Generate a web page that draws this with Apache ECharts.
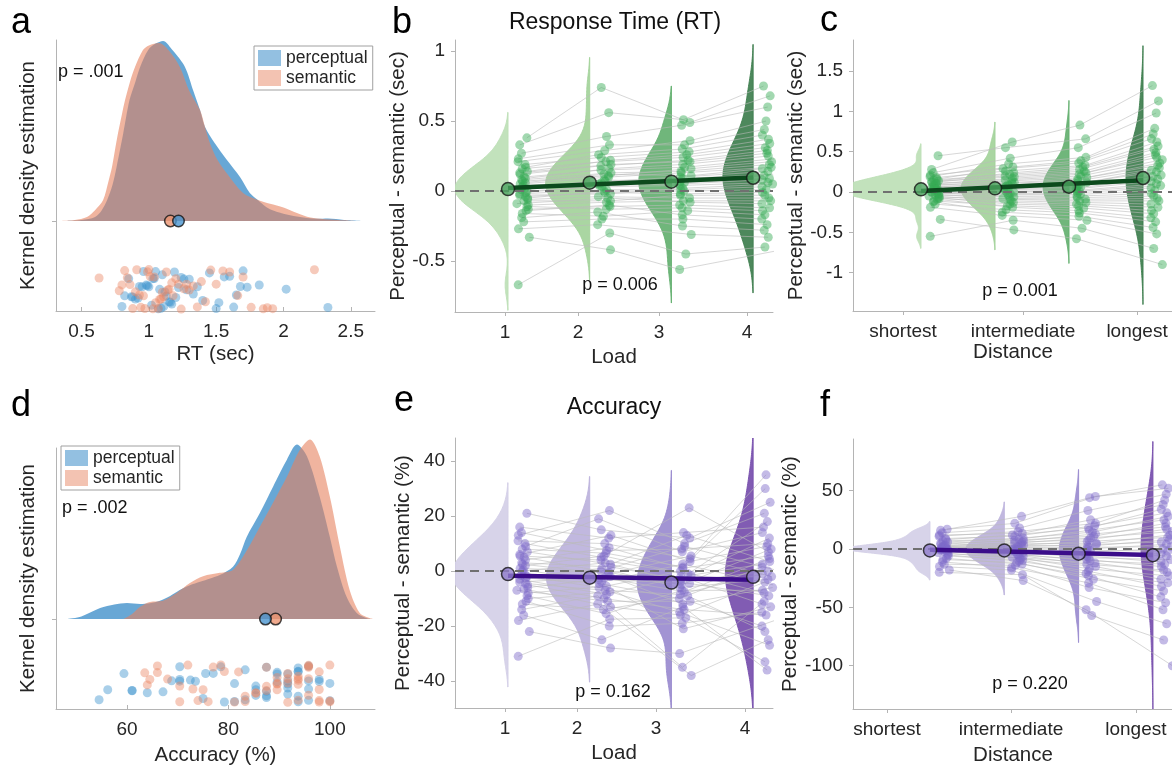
<!DOCTYPE html>
<html><head><meta charset="utf-8">
<script src="https://cdn.jsdelivr.net/npm/echarts@6/dist/echarts.min.js"></script>
<style>html,body{margin:0;padding:0;background:#fff}#c{width:1172px;height:765px}</style>
</head><body><div id="c"></div>
<script>
// ---------------- DATA ----------------
// Panel a: RT per subject (sec)
const rtPerceptual = [0.80,0.82,0.85,0.87,0.88,0.90,0.92,0.93,0.95,0.96,0.98,0.99,1.00,1.02,1.03,1.04,1.05,1.07,1.08,1.09,1.10,1.11,1.12,1.13,1.15,1.16,1.17,1.19,1.20,1.22,1.24,1.26,1.28,1.30,1.33,1.36,1.40,1.45,1.50,1.52,1.56,1.60,1.63,1.65,1.68,1.70,1.73,1.82,2.02,2.33];
const rtSemantic = [0.63,0.78,0.80,0.82,0.84,0.86,0.88,0.90,0.91,0.93,0.94,0.96,0.97,0.99,1.00,1.01,1.03,1.04,1.05,1.07,1.08,1.09,1.10,1.11,1.13,1.14,1.15,1.17,1.18,1.20,1.22,1.24,1.26,1.28,1.30,1.33,1.36,1.39,1.42,1.46,1.50,1.55,1.60,1.66,1.70,1.76,1.85,1.88,1.92,2.23];
const rtMeans = [1.22, 1.16]; // perceptual, semantic
const rtDensPerceptual = [[0.39,0],[0.5,0.005],[0.6,0.022],[0.65,0.06],[0.69,0.116],[0.73,0.2],[0.76,0.298],[0.81,0.486],[0.856,0.668],[0.9,0.77],[0.935,0.851],[0.995,0.945],[1.05,0.98],[1.105,0.995],[1.18,0.94],[1.268,0.851],[1.33,0.72],[1.38,0.613],[1.417,0.52],[1.49,0.43],[1.58,0.337],[1.677,0.243],[1.75,0.155],[1.81,0.116],[1.85,0.09],[1.9,0.065],[2.0,0.04],[2.1,0.025],[2.25,0.012],[2.33,0.014],[2.45,0.006],[2.6,0]];
const rtDensSemantic = [[0.35,0],[0.45,0.005],[0.54,0.022],[0.6,0.06],[0.66,0.116],[0.7,0.22],[0.726,0.298],[0.75,0.4],[0.771,0.486],[0.8,0.59],[0.823,0.668],[0.86,0.77],[0.897,0.851],[0.956,0.945],[1.0,0.97],[1.075,0.983],[1.15,0.94],[1.231,0.85],[1.3,0.72],[1.38,0.613],[1.417,0.52],[1.454,0.43],[1.51,0.337],[1.6,0.243],[1.7,0.155],[1.81,0.116],[1.9,0.095],[2.0,0.075],[2.1,0.045],[2.2,0.02],[2.35,0.008],[2.5,0.002],[2.6,0]];

// Panel d: accuracy per subject (%)
const accPerceptual = [54.5,56.2,59.4,61,61,64,67.1,68.8,70.4,70.4,70.4,72.5,73.5,75,75.5,77,78.5,79.2,81.2,81.2,83.3,83.3,85.4,85.4,85.4,87.5,87.5,87.5,87.5,89.6,89.6,89.6,91.7,91.7,91.7,91.7,91.7,93.75,93.75,93.75,93.75,93.75,95.8,95.8,95.8,95.8,97.9,97.9,100,100];
const accSemantic = [63.5,64,64.5,66,66,68,70.4,70.4,72,73,74,75,76,77,78.5,79.2,81.2,82,83.3,83.3,85.4,85.4,87.5,87.5,87.5,89.6,89.6,89.6,89.6,91.7,91.7,91.7,91.7,93.75,93.75,93.75,93.75,93.75,95.8,95.8,95.8,95.8,95.8,97.9,97.9,97.9,97.9,100,100,100];
const accMeans = [87.3, 89.3];
const accDensPerceptual = [[48.2,0],[51,0.015],[54.7,0.064],[57.5,0.085],[60,0.094],[62.6,0.088],[64.5,0.092],[66.5,0.107],[68.5,0.135],[70.4,0.17],[72.4,0.198],[74.4,0.218],[76.4,0.237],[78.3,0.257],[80.9,0.306],[82.3,0.38],[83.6,0.48],[86.2,0.62],[88.8,0.774],[91.5,0.93],[93.5,1.02],[95.5,0.95],[98,0.715],[100,0.48],[101.4,0.306],[103.3,0.13],[105.3,0.035],[107.3,0.005],[108.5,0]];
const accDensSemantic = [[59.3,0],[61,0.03],[62.6,0.072],[64.5,0.10],[67.1,0.107],[69.8,0.152],[72.4,0.21],[75,0.25],[78.3,0.27],[80.9,0.287],[83.6,0.40],[86.2,0.54],[88.8,0.68],[91.5,0.83],[94.1,0.99],[96.1,1.05],[98,0.95],[100,0.715],[102,0.42],[103.9,0.17],[105.9,0.035],[107.9,0.005],[108.9,0]];

// Panel b: RT difference (perceptual - semantic, sec) by load, per subject
const rtLoad1 = [-0.67,-0.33,-0.27,-0.22,-0.19,-0.16,-0.14,-0.13,-0.11,-0.10,-0.09,-0.07,-0.06,-0.05,-0.04,-0.03,-0.02,-0.01,0.00,0.01,0.02,0.03,0.04,0.05,0.06,0.07,0.08,0.09,0.10,0.12,0.13,0.14,0.16,0.17,0.19,0.21,0.23,0.27,0.33,0.38];
const rtLoad2 = [-0.30,-0.42,-0.24,-0.20,-0.15,-0.18,-0.10,-0.11,-0.13,-0.08,-0.05,-0.07,-0.04,0.00,-0.01,-0.02,0.01,0.04,0.03,0.05,0.08,0.07,0.06,0.10,0.12,0.11,0.13,0.16,0.15,0.18,0.19,0.22,0.21,0.26,0.24,0.29,0.33,0.39,0.56,0.74];
const rtLoad3 = [-0.45,-0.56,-0.31,-0.20,-0.25,-0.14,-0.17,-0.10,-0.12,-0.07,-0.08,-0.03,-0.05,0.00,-0.02,0.02,0.01,0.05,0.04,0.07,0.06,0.10,0.09,0.13,0.11,0.16,0.14,0.19,0.17,0.22,0.21,0.26,0.24,0.30,0.28,0.36,0.33,0.47,0.51,0.49];
const rtLoad4 = [-0.40,-0.43,-0.33,-0.24,-0.28,-0.17,-0.20,-0.12,-0.14,-0.07,-0.09,-0.03,-0.05,0.01,-0.01,0.05,0.03,0.08,0.06,0.11,0.09,0.14,0.12,0.17,0.16,0.21,0.19,0.25,0.23,0.29,0.27,0.34,0.31,0.40,0.37,0.50,0.44,0.60,0.75,0.68];
const rtLoadMeans = [0.014, 0.06, 0.067, 0.095];

// Panel c: RT difference by distance
const rtDist1 = [-0.55,-0.34,-0.19,-0.15,-0.12,-0.11,-0.09,-0.08,-0.07,-0.06,-0.05,-0.04,-0.03,-0.02,-0.01,0.00,0.00,0.01,0.02,0.03,0.04,0.05,0.05,0.06,0.07,0.08,0.09,0.10,0.11,0.12,0.13,0.14,0.15,0.16,0.18,0.19,0.21,0.24,0.28,0.45];
const rtDist2 = [-0.35,-0.47,-0.29,-0.22,-0.25,-0.17,-0.19,-0.13,-0.15,-0.09,-0.11,-0.06,-0.08,-0.03,-0.05,0.00,-0.02,0.03,0.01,0.05,0.04,0.08,0.07,0.11,0.09,0.14,0.12,0.17,0.15,0.20,0.19,0.24,0.22,0.29,0.26,0.35,0.31,0.42,0.62,0.55];
const rtDist3 = [-0.45,-0.58,-0.35,-0.26,-0.30,-0.20,-0.23,-0.15,-0.17,-0.11,-0.13,-0.07,-0.09,-0.03,-0.05,0.01,-0.01,0.04,0.02,0.07,0.06,0.11,0.09,0.14,0.12,0.18,0.16,0.22,0.20,0.26,0.24,0.31,0.28,0.36,0.33,0.43,0.39,0.55,0.83,0.66];
const rtDist4 = [-0.70,-0.90,-0.52,-0.37,-0.44,-0.27,-0.32,-0.19,-0.23,-0.11,-0.15,-0.05,-0.08,0.02,-0.02,0.08,0.05,0.13,0.10,0.19,0.16,0.25,0.21,0.30,0.27,0.36,0.33,0.43,0.40,0.49,0.46,0.57,0.53,0.66,0.62,0.79,0.72,0.98,1.32,1.13];
const rtDistMeans = [0.033, 0.046, 0.066, 0.174];

// Panel e: accuracy difference (%) by load
const accLoad1 = [-31,-22,-18,-16,-14,-12,-11,-10,-9,-8,-7,-6.5,-6,-5,-4.5,-4,-3,-2.5,-2,-1.5,-1,0,0.5,1,2,2.5,3,4,5,5.5,6,7,8,9,10,11,13,14,16,21];
const accLoad2 = [-17.5,-28,-12,-25,-9,-14,-20,-7.5,-15.5,-5.5,-11,-13,-3,-10,-7,-2,-8.5,-4.5,1,-6,-2.5,3,-4,-0.5,5.5,-1,1.5,8.5,0,4,13,2.5,6.5,19,5,10,22,7.5,12,15];
const accLoad3 = [-17,-30,-38,-13,-35,-9,-19,-15,-7,-21,-11,-16,-4.5,-14,-8.5,-12,-2,-10,-6,0,-7.5,-4,2.5,-5,-1.5,5.5,-3,1,9,-1,3.5,13,1.5,7,23,4.5,10,8,14,12];
const accLoad4 = [-33,-18,-25,-36,-11,-22,-15,-27,-7,-13,-20,-4,-9,-16,-1,-6,-12,1.5,-3,-8,4.5,0,-5,8,2.5,-2,12,5.5,0.5,18,9,3.5,30,14,7,35,21,10,16,25];
const accLoadMeans = [-1.1, -2.4, -4.2, -2.1];

// Panel f: accuracy difference (%) by distance
const accDist1 = [-20,-18,-15,-13,-11,-9,-8,-6,-5,-4,-3,-2,-2,-1,-1,-1,-0.5,0,0,0,0,0.5,1,1,1,2,2,3,3,4,5,6,7,8,9,11,12,14,16,17];
const accDist2 = [-22,-27,-18,-14,-16,-11.5,-13,-9.5,-10.5,-7.5,-8.5,-6,-7,-4.5,-5,-3,-3.5,-1.5,-2,0,-0.5,1.5,0.5,3,2,4.5,3.5,6,5,7.5,7,9.5,8.5,12,11,15,13.5,18,28,22];
const accDist3 = [-57,-52,-45,-33,-29,-26,-23,-21,-19,-17,-15,-13,-12,-10,-9,-7.5,-6,-5,-3.5,-2.5,-1,0,1.5,2.5,4,5,6.5,8,9.5,11,13,14.5,16,18,20,22,25,33,44,45];
const accDist4 = [-78,-100,-64,-46,-52,-36,-41,-29,-32,-23,-26,-18,-20,-13,-15,-9,-11,-4,-6,0,-2,4,2,8,6,12,10,17,15,22,19,28,25,34,31,42,38,47,55,52];
const accDistMeans = [-1.2, -1.2, -4.0, -5.3];

// tick labels
const loadLabels = ['1','2','3','4'];
const distanceLabels = ['shortest','intermediate','longest'];
const rtTicks = [0.5,1,1.5,2,2.5];
const accTicks = [60,80,100];
const rtLoadYTicks = [-0.5,0,0.5,1];
const rtDistYTicks = [-1,-0.5,0,0.5,1,1.5];
const accLoadYTicks = [-40,-20,0,20,40];
const accDistYTicks = [-100,-50,0,50];

// ---------------- LAYOUT / STYLE ----------------
const FONT = "'Liberation Sans', Arial, Helvetica, sans-serif";
const TXT = '#262626';
const AXC = '#b4b4b4';
const BLUE_AREA = 'rgba(40,130,195,0.7)', SAL_AREA = 'rgba(230,130,95,0.6)';
const BLUE_SW = 'rgba(40,130,195,0.5)', SAL_SW = 'rgba(230,130,95,0.48)';
const BLUE_PT = 'rgba(60,145,205,0.55)', SAL_PT = 'rgba(235,135,100,0.55)';
const GREENS = ['#bde0b6','#a3d29a','#64b070','#3e7e4e'];
const PURPLES = ['#d4cfe7','#bcb2dc','#9a8bcf','#764eac'];
const OFF = 0.18, SPR = 0.17;

// deterministic visual jitter (positions only)
function hash(a){ const s=Math.sin(a*12.9898+78.233)*43758.5453; return s-Math.floor(s); }
function jit(i,k){ return hash(i*7.13 + k*101.7 + 1.3) - 0.5; }
function yj(i,s){ return hash(i*3.71 + s*57.3 + 9.1); }
function median(a){ const s=a.slice().sort((x,y)=>x-y); const n=s.length; return n%2 ? s[(n-1)/2] : (s[n/2-1]+s[n/2])/2; }
function avg(a){ return a.reduce((s,v)=>s+v,0)/a.length; }
function kde(vals){
  const n=vals.length, med=median(vals), mad=median(vals.map(v=>Math.abs(v-med)));
  const h=(mad/0.6745)*Math.pow(4/(3*n),0.2);
  const lo=Math.min(...vals)-2.2*h, hi=Math.max(...vals)+2.2*h, M=160, pts=[]; let mx=0;
  for(let t=0;t<=M;t++){ const y=lo+(hi-lo)*t/M; let d=0; for(const v of vals){ const u=(y-v)/h; d+=Math.exp(-0.5*u*u);} d/=n*h*Math.sqrt(2*Math.PI); pts.push([y,d]); if(d>mx) mx=d; }
  return {pts, mx, lo, hi};
}

function valAxis(gi, min, max, ticks, labels, o){
  return {
    type:'value', gridIndex:gi, min, max,
    axisLine:{show:true, onZero:false, lineStyle:{color:AXC, width:1}},
    axisTick:{show:true, inside:!!o.inside, length:4, lineStyle:{color:AXC}, customValues:ticks},
    axisLabel:{show:!!labels, customValues:ticks, margin:o.margin||11, color:TXT, fontSize:19, fontFamily:FONT,
      formatter:(v)=>{ const i=ticks.findIndex(t=>Math.abs(t-v)<1e-6); return (labels && i>=0) ? labels[i] : ''; }},
    splitLine:{show:false},
    name:o.name, nameLocation:'middle', nameGap:o.gap,
    nameTextStyle:{color:TXT, fontSize:20.5, fontFamily:FONT}
  };
}
const str = a => a.map(v=>String(v));

const grids = [
  {left:56, top:40, width:319, height:271},
  {left:455, top:40, width:318, height:272},
  {left:853, top:40, width:320, height:271},
  {left:56, top:448, width:319, height:261},
  {left:455, top:438, width:318, height:270},
  {left:853, top:439, width:320, height:270}
].map(g=>Object.assign(g,{containLabel:false, outerBoundsMode:'none'}));

const xAxes = [
  valAxis(0, 0.31, 2.68, rtTicks, str(rtTicks), {inside:true, name:'RT (sec)', gap:33}),
  valAxis(1, 0.351, 4.243, [0.963,1.857,2.848,3.925], loadLabels, {name:'Load', gap:35}),
  valAxis(2, 0.081, 4.405, [0.757,2.378,3.919], distanceLabels, {name:'Distance', gap:29}),
  valAxis(3, 46, 108.9, accTicks, str(accTicks), {inside:true, name:'Accuracy (%)', gap:36}),
  valAxis(4, 0.351, 4.243, [0.963,1.845,2.811,3.90], loadLabels, {name:'Load', gap:35}),
  valAxis(5, -0.036, 4.27, [0.421,2.09,3.77], distanceLabels, {name:'Distance', gap:36})
];
const yAxes = [
  valAxis(0, -0.497, 1.0, [0], null, {name:'Kernel density estimation', gap:17}),
  valAxis(1, -0.864, 1.079, rtLoadYTicks, str(rtLoadYTicks), {name:'Perceptual - semantic (sec)', gap:38, margin:10}),
  valAxis(2, -1.476, 1.886, rtDistYTicks, str(rtDistYTicks), {name:'Perceptual - semantic (sec)', gap:37, margin:10}),
  valAxis(3, -0.526, 1.0, [0], null, {name:'Kernel density estimation', gap:17}),
  valAxis(4, -49.8, 48.4, accLoadYTicks, str(accLoadYTicks), {name:'Perceptual - semantic (%)', gap:35, margin:10}),
  valAxis(5, -137.1, 94.3, accDistYTicks, str(accDistYTicks), {name:'Perceptual - semantic (%)', gap:46, margin:10})
];

function densitySeries(gi, densP, densS, ptsP, ptsS, means, clip){
  const sc = (vals, s) => vals.map((v,i)=>[v, -0.265 - 0.225*yj(i,s)]);
  return [
    {type:'line', name:'perceptual', xAxisIndex:gi, yAxisIndex:gi, data:densP, smooth:0.3, symbol:'none', clip,
      lineStyle:{width:0, opacity:0}, itemStyle:{color:BLUE_SW}, areaStyle:{color:BLUE_AREA, opacity:1}, z:2, silent:true},
    {type:'line', name:'semantic', xAxisIndex:gi, yAxisIndex:gi, data:densS, smooth:0.3, symbol:'none', clip,
      lineStyle:{width:0, opacity:0}, itemStyle:{color:SAL_SW}, areaStyle:{color:SAL_AREA, opacity:1}, z:3, silent:true},
    {type:'scatter', xAxisIndex:gi, yAxisIndex:gi, data:sc(ptsP,0), symbolSize:9, itemStyle:{color:BLUE_PT}, z:4, silent:true},
    {type:'scatter', xAxisIndex:gi, yAxisIndex:gi, data:sc(ptsS,1), symbolSize:9, itemStyle:{color:SAL_PT}, z:4, silent:true},
    {type:'scatter', xAxisIndex:gi, yAxisIndex:gi, data:[{value:[means[1],0], itemStyle:{color:'#ec9572'}},{value:[means[0],0], itemStyle:{color:'#4a95cf'}}],
      symbolSize:11.5, itemStyle:{borderColor:'#151515', borderWidth:1.5}, z:6, silent:true}
  ];
}

function rcSeries(p){
  const gi=p.gi;
  const vio = p.conds.map((vals,k)=>Object.assign(kde(vals), {edge:k+1, w:p.widths[k], color:p.colors[k]}));
  const n = p.conds[0].length;
  const px = (i,k) => k+1+OFF+SPR*jit(i,k);
  const lines=[]; for(let i=0;i<n;i++) lines.push({coords:p.conds.map((vals,k)=>[px(i,k), vals[i]])});
  const pts=[]; p.conds.forEach((vals,k)=>vals.forEach((v,i)=>pts.push([px(i,k), v])));
  const xs=p.means.map((_,k)=>k+1), mx=avg(xs), my=avg(p.means);
  let sxy=0,sxx=0; xs.forEach((x,k)=>{ sxy+=(x-mx)*(p.means[k]-my); sxx+=(x-mx)*(x-mx); });
  const b=sxy/sxx, a=my-b*mx;
  return [
    {type:'custom', xAxisIndex:gi, yAxisIndex:gi, clip:true, z:2, silent:true,
      data: vio.map((v,k)=>[k+1, p.means[k]]),
      renderItem:(params, api)=>{
        const v=vio[params.dataIndex];
        const P=[api.coord([v.edge, v.lo])];
        v.pts.forEach(([y,d])=>P.push(api.coord([v.edge - d/v.mx*v.w, y])));
        P.push(api.coord([v.edge, v.hi]));
        return {type:'polygon', shape:{points:P}, style:{fill:v.color, stroke:v.color, lineWidth:1, opacity:0.92}};
      }},
    {type:'lines', coordinateSystem:'cartesian2d', xAxisIndex:gi, yAxisIndex:gi, polyline:true, data:lines,
      lineStyle:{color:'#bababa', width:0.9, opacity:0.65}, z:3, silent:true},
    {type:'scatter', xAxisIndex:gi, yAxisIndex:gi, data:pts, symbolSize:9, itemStyle:{color:p.pt}, z:4, silent:true},
    {type:'line', xAxisIndex:gi, yAxisIndex:gi, data:[[1,a+b],[4,a+4*b]], symbol:'none', lineStyle:{color:p.fit, width:4.5}, z:6, silent:true,
      markLine:{silent:true, symbol:['none','none'], label:{show:false}, lineStyle:{color:'#707070', width:2.2, type:[9,6]}, data:[{yAxis:0}]}},
    {type:'scatter', xAxisIndex:gi, yAxisIndex:gi, data:p.means.map((m,k)=>[k+1,m]), symbolSize:13,
      itemStyle:{color:p.mean, borderColor:'#151515', borderWidth:1.5}, z:7, silent:true}
  ];
}

const GREEN = {colors:GREENS, pt:'rgba(55,170,85,0.58)', fit:'#0c4a1d', mean:'#4ba35f'};
const PURPLE = {colors:PURPLES, pt:'rgba(125,105,200,0.58)', fit:'#3b0d8a', mean:'#8e7ccb'};

const series = [].concat(
  densitySeries(0, rtDensPerceptual, rtDensSemantic, rtPerceptual, rtSemantic, rtMeans, true),
  densitySeries(3, accDensPerceptual, accDensSemantic, accPerceptual, accSemantic, accMeans, false),
  rcSeries(Object.assign({gi:1, conds:[rtLoad1,rtLoad2,rtLoad3,rtLoad4], means:rtLoadMeans, widths:[0.65,0.54,0.40,0.37]}, GREEN)),
  rcSeries(Object.assign({gi:2, conds:[rtDist1,rtDist2,rtDist3,rtDist4], means:rtDistMeans, widths:[1.08,0.46,0.35,0.23]}, GREEN)),
  rcSeries(Object.assign({gi:4, conds:[accLoad1,accLoad2,accLoad3,accLoad4], means:accLoadMeans, widths:[0.69,0.53,0.42,0.34]}, PURPLE)),
  rcSeries(Object.assign({gi:5, conds:[accDist1,accDist2,accDist3,accDist4], means:accDistMeans, widths:[1.14,0.52,0.26,0.16]}, PURPLE))
);

function legendAt(left, top){
  return {left, top, orient:'vertical', icon:'rect', itemWidth:23, itemHeight:16, itemGap:2,
    padding:[3,5,3,4], borderColor:'#a0a0a0', borderWidth:1, backgroundColor:'#fff', selectedMode:false,
    textStyle:{fontSize:17.5, color:TXT, fontFamily:FONT},
    data:[{name:'perceptual', itemStyle:{color:BLUE_SW}}, {name:'semantic', itemStyle:{color:SAL_SW}}]};
}

function txt(x, y, t, size, align, color){
  return {type:'text', x, y, silent:true, style:{text:t, fontSize:size, fontFamily:FONT, fill:color||TXT, align:align||'left', verticalAlign:'middle'}};
}

const option = {
  animation:false,
  textStyle:{fontFamily:FONT},
  grid:grids, xAxis:xAxes, yAxis:yAxes,
  legend:[legendAt(254,46), legendAt(61,446)],
  series,
  graphic:[
    txt(11,23,'a',36,'left','#000'), txt(392,23,'b',36,'left','#000'), txt(820,21,'c',36,'left','#000'),
    txt(11,406,'d',36,'left','#000'), txt(394,401,'e',36,'left','#000'), txt(820,406,'f',36,'left','#000'),
    txt(615,23,'Response Time (RT)',23,'center','#111'),
    txt(614,408,'Accuracy',23,'center','#111'),
    txt(58,72,'p = .001',18,'left','#111'),
    txt(62,508,'p = .002',18,'left','#111'),
    txt(620,285,'p = 0.006',18,'center','#111'),
    txt(1020,291,'p = 0.001',18,'center','#111'),
    txt(613,692,'p = 0.162',18,'center','#111'),
    txt(1030,684,'p = 0.220',18,'center','#111')
  ]
};
const chart = echarts.init(document.getElementById('c'), null, {renderer:'canvas'});
chart.setOption(option);
</script></body></html>
